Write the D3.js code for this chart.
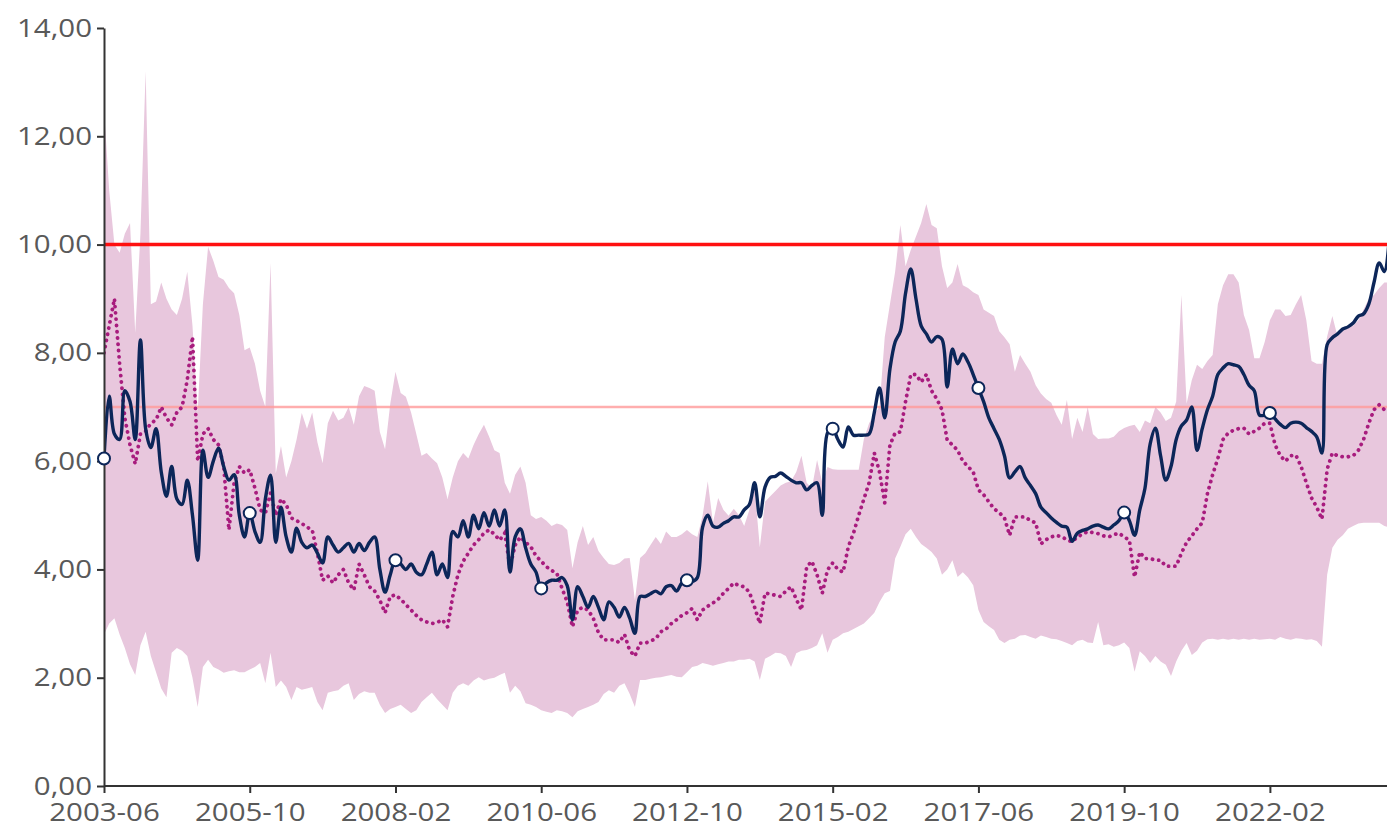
<!DOCTYPE html>
<html>
<head>
<meta charset="utf-8">
<script src="https://cdn.jsdelivr.net/npm/d3@7"></script>
<style>
  body { margin: 0; background: #fff; }
  .axis text { font-family: "Open Sans", "Noto Sans", sans-serif; font-size: 25px; fill: #595959; }
  .axis path, .axis line { stroke: #333; stroke-width: 2; }
</style>
</head>
<body>
<script>
// monthly values, first month 2003-06
var startLabel = "2003-06";

var tickLabels = ["2003-06", "2005-10", "2008-02", "2010-06", "2012-10",
                  "2015-02", "2017-06", "2019-10", "2022-02"];
var yTicks = [0, 2, 4, 6, 8, 10, 12, 14];
var limitHigh = 10;
var limitLow = 7;

// main series (navy line)
var mainValues = [
  6.05, 7.2, 6.5, 6.4, 7.3, 7.1, 6.4, 8.24, 6.6, 6.25,
  6.6, 5.8, 5.35, 5.9, 5.3, 5.2, 5.65, 5.0, 4.17, 6.2,
  5.7, 6.0, 6.24, 5.9, 5.65, 5.75, 5.0, 4.6, 5.04, 4.7,
  4.5, 5.3, 5.74, 4.5, 5.15, 4.6, 4.32, 4.76, 4.5, 4.4,
  4.45, 4.3, 4.12, 4.6, 4.45, 4.32, 4.4, 4.48, 4.32, 4.48,
  4.35, 4.5, 4.6, 4.0, 3.58, 3.9, 4.17, 4.1, 4.0, 4.1,
  3.95, 3.9, 4.1, 4.32, 3.9, 4.1, 3.85, 4.7, 4.6, 4.9,
  4.6, 5.0, 4.75, 5.05, 4.8, 5.1, 4.8, 5.1, 3.95, 4.6,
  4.75, 4.4, 4.1, 3.95, 3.65, 3.75, 3.8, 3.8, 3.85, 3.7,
  3.07, 3.68, 3.5, 3.3, 3.5, 3.3, 3.07, 3.4, 3.3, 3.12,
  3.3, 3.1, 2.82, 3.5, 3.5, 3.55, 3.6, 3.55, 3.68, 3.7,
  3.6, 3.75, 3.8, 3.78, 3.85, 4.78, 5.0, 4.8, 4.78, 4.85,
  4.9, 4.97, 4.97, 5.1, 5.2, 5.6, 4.97, 5.52, 5.7, 5.72,
  5.78, 5.72, 5.65, 5.6, 5.6, 5.47, 5.55, 5.6, 5.0, 6.52,
  6.6, 6.4, 6.26, 6.63, 6.48, 6.48, 6.48, 6.5, 6.9, 7.35,
  6.8, 7.7, 8.2, 8.4, 9.1, 9.55, 9.0, 8.5, 8.35, 8.2,
  8.3, 8.25, 7.37, 8.07, 7.8, 7.98, 7.83, 7.6, 7.35, 7.1,
  6.8, 6.6, 6.4, 6.1, 5.69, 5.8, 5.9, 5.69, 5.55, 5.4,
  5.15, 5.05, 4.95, 4.87, 4.8, 4.78, 4.52, 4.67, 4.72, 4.75,
  4.8, 4.82, 4.78, 4.75, 4.82, 4.9, 5.05, 4.9, 4.63, 5.1,
  5.5, 6.32, 6.61, 6.1, 5.65, 5.9, 6.4, 6.65, 6.76, 7.0,
  6.2, 6.6, 6.95, 7.2, 7.6, 7.72, 7.8, 7.78, 7.75, 7.6,
  7.4, 7.3, 6.85, 6.85, 6.89, 6.78, 6.68, 6.62, 6.7, 6.72,
  6.7, 6.62, 6.55, 6.45, 6.15, 8.15, 8.28, 8.35, 8.44, 8.48,
  8.55, 8.68, 8.72, 8.9, 9.3, 9.66, 9.5, 10.2
];

// median (dotted line)
var medianValues = [
  8.0, 8.5, 9.0, 7.8, 6.8, 6.3, 5.95, 6.5, 6.55, 6.7,
  6.76, 7.0, 6.8, 6.67, 6.9, 7.0, 7.5, 8.3, 6.0, 6.5,
  6.6, 6.4, 6.3, 5.9, 4.73, 5.6, 5.9, 5.78, 5.84, 5.5,
  5.1, 5.04, 5.41, 5.0, 5.3, 5.2, 4.95, 4.9, 4.85, 4.78,
  4.73, 4.3, 3.8, 3.88, 3.75, 3.9, 4.0, 3.75, 3.62, 4.1,
  3.9, 3.68, 3.6, 3.43, 3.2, 3.5, 3.53, 3.45, 3.35, 3.25,
  3.15, 3.07, 3.03, 3.0, 3.02, 3.07, 2.94, 3.5, 3.9, 4.15,
  4.3, 4.45, 4.55, 4.67, 4.73, 4.65, 4.54, 4.67, 4.05, 4.45,
  4.6, 4.5, 4.42, 4.25, 4.15, 4.05, 3.98, 3.93, 3.65, 3.4,
  2.94, 3.25, 3.3, 3.25, 3.1, 2.83, 2.7, 2.7, 2.7, 2.65,
  2.8, 2.5, 2.4, 2.64, 2.64, 2.68, 2.72, 2.85, 2.9, 3.0,
  3.07, 3.15, 3.2, 3.28, 3.07, 3.25, 3.32, 3.38, 3.45, 3.56,
  3.65, 3.75, 3.7, 3.68, 3.58, 3.3, 3.0, 3.56, 3.55, 3.52,
  3.5, 3.6, 3.68, 3.45, 3.25, 4.05, 4.15, 3.9, 3.56, 3.99,
  4.12, 4.0, 3.95, 4.42, 4.67, 5.0, 5.3, 5.6, 6.15, 5.8,
  5.23, 6.3, 6.52, 6.54, 7.1, 7.6, 7.6, 7.46, 7.6, 7.3,
  7.15, 6.95, 6.39, 6.3, 6.2, 6.0, 5.9, 5.8, 5.47, 5.38,
  5.25, 5.12, 5.05, 4.95, 4.63, 4.97, 4.97, 4.97, 4.9, 4.86,
  4.47, 4.55, 4.6, 4.63, 4.6, 4.55, 4.51, 4.6, 4.65, 4.7,
  4.68, 4.66, 4.62, 4.6, 4.64, 4.67, 4.6, 4.54, 3.86, 4.32,
  4.2, 4.2, 4.17, 4.17, 4.06, 4.06, 4.06, 4.3, 4.5, 4.62,
  4.75, 4.86, 5.4, 5.75, 6.05, 6.4, 6.52, 6.57, 6.6, 6.61,
  6.5, 6.55, 6.61, 6.7, 6.7, 6.3, 6.1, 6.0, 6.1, 6.11,
  5.9, 5.6, 5.32, 5.15, 4.93, 5.85, 6.15, 6.1, 6.08, 6.08,
  6.1, 6.2, 6.4, 6.7, 6.95, 7.04, 6.95, 6.95
];

// band top
var bandHigh = [
  12.5, 11.0, 10.0, 9.85, 10.2, 10.4, 8.37, 10.2, 13.2, 8.9,
  8.95, 9.3, 9.0, 8.8, 8.7, 9.0, 9.5, 8.5, 6.9, 8.9,
  9.96, 9.7, 9.4, 9.35, 9.2, 9.1, 8.7, 8.05, 8.1, 7.8,
  7.3, 7.0, 9.66, 5.77, 6.28, 5.7, 6.0, 6.4, 6.89, 6.6,
  6.9, 6.35, 5.96, 6.7, 6.93, 6.75, 6.8, 7.0, 6.67, 7.2,
  7.39, 7.35, 7.3, 6.54, 6.22, 7.06, 7.65, 7.26, 7.19, 6.9,
  6.5, 6.1, 6.15, 6.05, 5.96, 5.7, 5.3, 5.7, 6.0, 6.15,
  6.05, 6.3, 6.5, 6.67, 6.45, 6.2, 6.15, 5.6, 5.4, 5.75,
  5.9, 5.6, 5.0, 4.93, 4.97, 4.9, 4.8, 4.85, 4.82, 4.73,
  4.02, 4.5, 4.8, 4.45, 4.6, 4.34, 4.21, 4.1, 4.08, 4.12,
  4.2, 4.21, 3.43, 4.21, 4.3, 4.45, 4.6, 4.47, 4.7, 4.6,
  4.6, 4.65, 4.73, 4.65, 4.6, 4.99, 5.63, 4.86, 5.32, 5.1,
  4.99, 5.12, 5.0, 4.8, 5.1, 5.5, 4.41, 5.25, 5.35, 5.45,
  5.55, 5.6, 5.63, 5.8, 6.1, 5.6, 5.5, 6.02, 5.6, 5.89,
  5.85, 5.84, 5.84, 5.84, 5.84, 5.84, 6.41, 6.7, 6.87, 7.0,
  8.29, 8.9, 9.5, 10.36, 9.6, 9.9, 10.15, 10.4, 10.75, 10.36,
  10.3, 9.6, 9.2, 9.3, 9.64, 9.25, 9.2, 9.12, 9.07, 8.8,
  8.74, 8.68, 8.4, 8.29, 8.16, 7.65, 7.96, 7.8, 7.65, 7.4,
  7.25, 7.15, 7.08, 6.85, 6.67, 7.13, 6.41, 6.8, 6.54, 7.0,
  6.5, 6.41, 6.42, 6.42, 6.45, 6.55, 6.61, 6.65, 6.67, 6.54,
  6.75, 6.7, 7.0, 6.9, 6.74, 6.8, 7.1, 9.07, 7.06, 7.5,
  7.78, 7.7, 7.85, 7.96, 8.9, 9.25, 9.45, 9.45, 9.3, 8.7,
  8.42, 7.9, 7.9, 8.2, 8.6, 8.8, 8.8, 8.68, 8.7, 8.9,
  9.07, 8.6, 7.85, 7.8, 7.8, 8.3, 8.68, 8.3, 8.45, 8.48,
  8.5, 8.6, 8.8, 9.0, 9.07, 9.2, 9.3, 9.3
];

// band bottom
var bandLow = [
  2.8, 3.0, 3.1, 2.8, 2.55, 2.25, 2.05, 2.6, 2.85, 2.4,
  2.1, 1.8, 1.64, 2.46, 2.55, 2.5, 2.4, 2.0, 1.46, 2.2,
  2.33, 2.2, 2.15, 2.09, 2.12, 2.14, 2.1, 2.1, 2.15, 2.2,
  2.27, 1.9, 2.46, 1.83, 1.95, 1.83, 1.59, 1.83, 1.78, 1.8,
  1.83, 1.55, 1.4, 1.72, 1.75, 1.77, 1.85, 1.9, 1.59, 1.7,
  1.75, 1.72, 1.72, 1.5, 1.35, 1.42, 1.46, 1.5, 1.42, 1.35,
  1.4, 1.55, 1.64, 1.72, 1.6, 1.5, 1.4, 1.72, 1.85, 1.9,
  1.85, 1.95, 2.01, 1.95, 1.98, 2.0, 2.05, 2.09, 1.72, 1.85,
  1.75, 1.53, 1.5, 1.46, 1.4, 1.37, 1.35, 1.4, 1.38, 1.35,
  1.27, 1.38, 1.42, 1.46, 1.5, 1.55, 1.7, 1.77, 1.72, 1.85,
  1.9, 1.7, 1.46, 1.96, 1.96, 1.98, 2.0, 2.01, 2.03, 2.05,
  2.02, 2.01, 2.1, 2.2, 2.22, 2.27, 2.25, 2.22, 2.25, 2.27,
  2.3, 2.3, 2.33, 2.33, 2.35, 2.3, 1.96, 2.35, 2.4, 2.46,
  2.45, 2.4, 2.2, 2.45, 2.5, 2.51, 2.55, 2.6, 2.82, 2.46,
  2.7, 2.75, 2.82, 2.85, 2.9, 2.95, 3.0, 3.1, 3.2, 3.4,
  3.56, 3.6, 4.2, 4.42, 4.65, 4.75, 4.6, 4.47, 4.4, 4.32,
  4.2, 3.9, 4.0, 4.17, 3.86, 3.95, 3.85, 3.71, 3.25, 3.03,
  2.95, 2.88, 2.7, 2.64, 2.7, 2.72, 2.78, 2.79, 2.75, 2.72,
  2.78, 2.75, 2.72, 2.71, 2.68, 2.64, 2.6, 2.68, 2.7, 2.65,
  2.64, 3.03, 2.6, 2.62, 2.57, 2.6, 2.65, 2.55, 2.11, 2.49,
  2.4, 2.27, 2.4, 2.3, 2.24, 2.03, 2.3, 2.5, 2.64, 2.42,
  2.5, 2.65, 2.71, 2.72, 2.7, 2.72, 2.7, 2.72, 2.7, 2.72,
  2.7, 2.72, 2.7, 2.71, 2.72, 2.7, 2.75, 2.72, 2.7, 2.73,
  2.72, 2.7, 2.71, 2.68, 2.57, 3.9, 4.4, 4.55, 4.63, 4.75,
  4.8, 4.85, 4.86, 4.86, 4.86, 4.86, 4.8, 4.78
];

var w = 1387;
var h = 829;
var stretch = 1.18; // labels in the picture are drawn wider than the font

// month index of a "YYYY-MM" label, counted from the first month
function monthIndex(label) {
  var a = label.split("-"), b = startLabel.split("-");
  return (+a[0] - +b[0]) * 12 + (+a[1] - +b[1]);
}

var svg = d3.select("body").append("svg")
  .attr("width", w)
  .attr("height", h);

var x = d3.scaleLinear().domain([0, 246.5]).range([104, 1387]);
var y = d3.scaleLinear().domain([0, 14]).range([786, 28]);

svg.append("clipPath").attr("id", "plot")
  .append("rect")
  .attr("x", x(0)).attr("y", 0)
  .attr("width", w - x(0)).attr("height", y(0));

var g = svg.append("g").attr("clip-path", "url(#plot)");

var rows = mainValues.map(function(v, i) {
  return { m: i, main: v, median: medianValues[i], lo: bandLow[i], hi: bandHigh[i] };
});

// BAND
g.append("path")
  .datum(rows)
  .attr("fill", "#e8c7dd")
  .attr("d", d3.area()
    .x(function(d) { return x(d.m); })
    .y0(function(d) { return y(d.lo); })
    .y1(function(d) { return y(d.hi); }));

// LIMIT LINES
g.append("line")
  .attr("x1", x(0)).attr("x2", w)
  .attr("y1", y(limitLow)).attr("y2", y(limitLow))
  .attr("stroke", "#ff9a9a").attr("stroke-opacity", 0.8)
  .attr("stroke-width", 2.5);

g.append("line")
  .attr("x1", x(0)).attr("x2", w)
  .attr("y1", y(limitHigh)).attr("y2", y(limitHigh))
  .attr("stroke", "#ff1010")
  .attr("stroke-width", 3.5);

// MEDIAN
g.append("path")
  .datum(rows)
  .attr("fill", "none")
  .attr("stroke", "#a81c7e")
  .attr("stroke-width", 3.8)
  .attr("stroke-linecap", "round")
  .attr("stroke-dasharray", "0.1,6.2")
  .attr("d", d3.line()
    .x(function(d) { return x(d.m); })
    .y(function(d) { return y(d.median); }));

// MAIN LINE
g.append("path")
  .datum(rows)
  .attr("fill", "none")
  .attr("stroke", "#0c2659")
  .attr("stroke-width", 3.4)
  .attr("stroke-linejoin", "round")
  .attr("d", d3.line()
    .curve(d3.curveCatmullRom.alpha(0.5))
    .x(function(d) { return x(d.m); })
    .y(function(d) { return y(d.main); }));

// AXES
var yAxis = svg.append("g")
  .attr("class", "axis")
  .attr("transform", "translate(" + x(0) + ",0)")
  .call(d3.axisLeft(y)
    .tickValues(yTicks)
    .tickSize(7)
    .tickSizeOuter(0)
    .tickPadding(5)
    .tickFormat(function(d) { return d3.format(".2f")(d).replace(".", ","); }));

yAxis.selectAll(".tick text")
  .attr("x", -12 / stretch)
  .attr("transform", "scale(" + stretch + ",1)");

var xAxis = svg.append("g")
  .attr("class", "axis")
  .attr("transform", "translate(0," + y(0) + ")")
  .call(d3.axisBottom(x)
    .tickValues(tickLabels.map(monthIndex))
    .tickSize(7)
    .tickSizeOuter(0)
    .tickPadding(10)
    .tickFormat(function(d, i) { return tickLabels[i]; }));

xAxis.selectAll(".tick text")
  .attr("transform", "scale(" + stretch + ",1)");

xAxis.select(".domain").attr("d", "M" + x(0) + ",0H" + w);

// MARKERS at tick months
svg.append("g")
  .selectAll("circle")
  .data(tickLabels.map(monthIndex))
  .enter()
  .append("circle")
  .attr("cx", function(d) { return x(d); })
  .attr("cy", function(d) { return y(mainValues[d]); })
  .attr("r", 6)
  .attr("fill", "#fff")
  .attr("stroke", "#0c2659")
  .attr("stroke-width", 2);
</script>
</body>
</html>
